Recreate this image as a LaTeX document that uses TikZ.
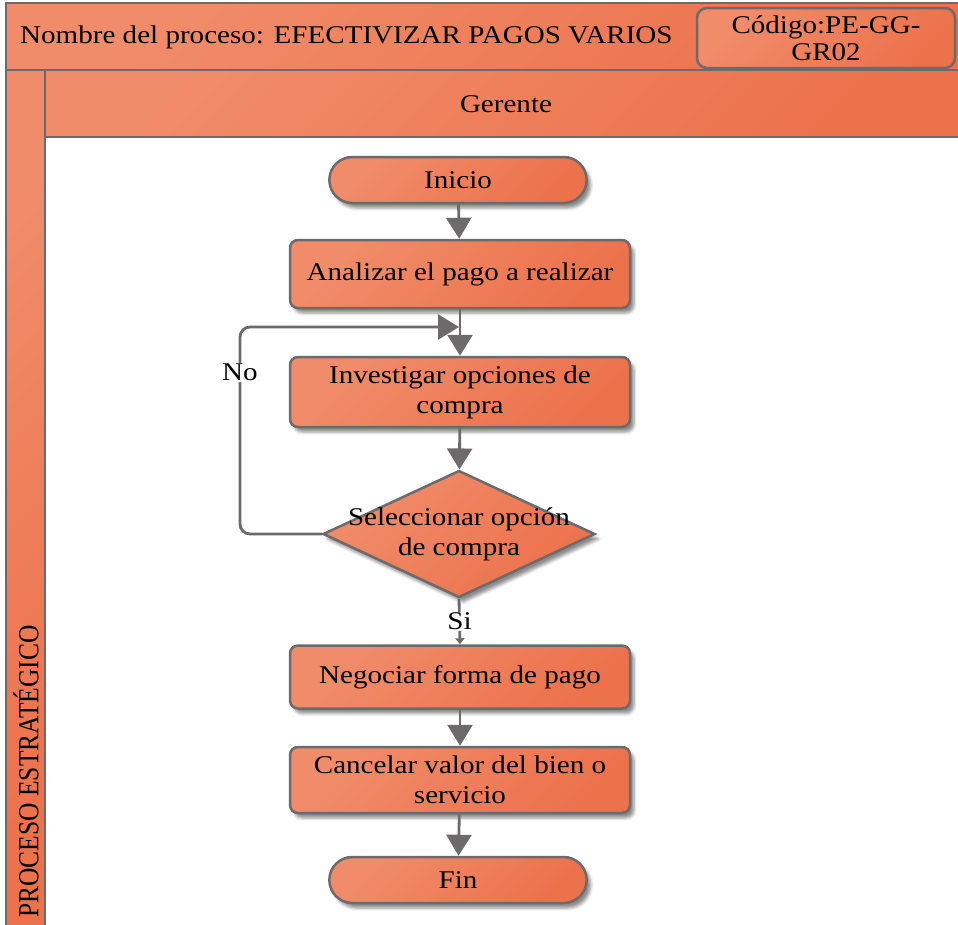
\documentclass[tikz,border=0pt]{standalone}
\usepackage{fontspec}
\setmainfont{Liberation Serif}[FakeStretch=1.14]
\newfontfamily\lanefont{Liberation Serif}
\usetikzlibrary{positioning,shapes.geometric,shapes.misc,arrows.meta,shadows.blur}

\definecolor{naranjaClaro}{RGB}{241,140,106}
\definecolor{naranjaOscuro}{RGB}{236,114,76}
\definecolor{gris}{RGB}{108,106,106}

\begin{document}
\begin{tikzpicture}[x=1pt,y=-1pt]
  \tikzset{every node/.style = {font = \fontsize{25.5}{30}\selectfont,
                                text = black}}
  \tikzset{FillStyle/.style    = {draw           = gris,
                                 line width     = 2.5pt,
                                 top color      = naranjaClaro,
                                 bottom color   = naranjaOscuro,
                                 shading angle  = 45}}
  \tikzset{ShadowStyle/.style  = {blur shadow    = {shadow xshift=4pt,
                                                    shadow yshift=-5pt,
                                                    shadow blur radius=3pt,
                                                    shadow opacity=45}}}
  \tikzset{ProcessStyle/.style = {FillStyle, ShadowStyle,
                                 shape          = rectangle,
                                 rounded corners = 8pt,
                                 align          = center,
                                 minimum width  = 340pt,
                                 minimum height = 66pt}}
  \tikzset{TerminalStyle/.style = {FillStyle, ShadowStyle,
                                 shape          = rounded rectangle,
                                 minimum width  = 264pt,
                                 minimum height = 46pt}}
  \tikzset{DecisionStyle/.style = {FillStyle, ShadowStyle,
                                 shape          = diamond,
                                 inner sep      = 0pt,
                                 minimum width  = 272pt,
                                 minimum height = 127pt}}
  \tikzset{EdgeStyle/.style    = {draw = gris, line width = 2.8pt,
                                 -{Triangle[length=21pt,width=25pt]}}}
%                                 rounded corners only on the loop
  \tikzset{LabelStyle/.style   = {fill = white, inner sep = 1pt}}

\useasboundingbox (0,0) rectangle (958,924);

% lanes
\draw[FillStyle] (6,3) rectangle (962,70);
\draw[FillStyle] (45,70) rectangle (962,137);
\draw[FillStyle] (6,70) rectangle (45,930);

\node[anchor=west, inner sep=0pt] (Nombre) at (20,37) {Nombre del proceso: EFECTIVIZAR PAGOS VARIOS};
\node[FillStyle, rounded corners=10pt, align=center, inner sep=0pt,
      minimum width=258pt, minimum height=60pt,
      font=\fontsize{25.5}{27}\selectfont] (Codigo) at (826,38) {Código:PE-GG-\\GR02};
\node (Gerente) at (506,104) {Gerente};
\node[rotate=90, anchor=west, inner sep=0pt,
      font=\lanefont\fontsize{25.5}{30}\selectfont] (Proceso) at (26,918)
      {\scalebox{1}[1.14]{PROCESO ESTRATÉGICO}};

% flow
\node[TerminalStyle] (Inicio) at (458,180) {Inicio};
\node[ProcessStyle, minimum height=68pt] (Analizar) at (460,274) {Analizar el pago a realizar};
\node[ProcessStyle, minimum height=70pt] (Investigar) at (460,392) {Investigar opciones de\\compra};
\node[DecisionStyle, label={[align=center]center:{Seleccionar opción\\de compra}}] (Seleccionar) at (459,534) {};
\node[ProcessStyle, minimum height=63pt] (Negociar) at (460,677) {Negociar forma de pago};
\node[ProcessStyle] (Cancelar) at (460,780) {Cancelar valor del bien o\\servicio};
\node[TerminalStyle] (Fin) at (458,880) {Fin};

\coordinate (Esquina) at (240,327);
\coordinate (Retorno) at (459,327);

\draw[EdgeStyle] (Inicio) -- (Analizar);
\draw[EdgeStyle] (Analizar) -- (Investigar);
\draw[EdgeStyle] (Investigar) -- (Seleccionar);
\draw[EdgeStyle, rounded corners=10pt] (Seleccionar.west) -| node[LabelStyle, pos=0.89] {No} (Esquina) -- (Retorno);
\draw[EdgeStyle, -{Triangle[length=6pt,width=9pt]}] (Seleccionar.south) -- node[LabelStyle, pos=0.5] {Si} (Negociar.north);
\draw[EdgeStyle] (Negociar) -- (Cancelar);
\draw[EdgeStyle] (Cancelar) -- (Fin);

\end{tikzpicture}
\end{document}
